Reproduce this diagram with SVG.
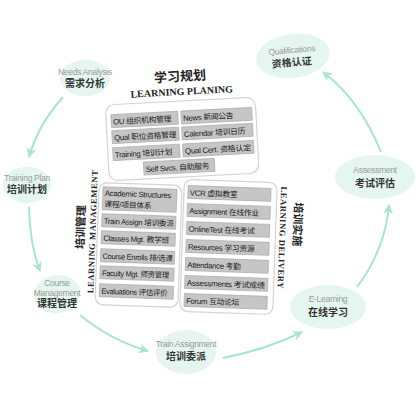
<svg xmlns="http://www.w3.org/2000/svg" width="420" height="420" viewBox="0 0 420 420">
<defs>
<style>
.node ellipse{fill:#e4f6ef;}
.en{font-family:"Liberation Sans",Arial,sans-serif;font-size:8.5px;fill:#9a9a9a;text-anchor:middle;letter-spacing:-0.3px;}
.zh{font-family:"Liberation Sans","Noto Sans CJK SC",sans-serif;font-size:10px;font-weight:bold;fill:#333;text-anchor:middle;}
.panel{fill:#fff;stroke:#d4d4d4;stroke-width:1.2;}
.box{fill:#c6c6c6;stroke:#a0a0a0;stroke-width:0.6;}
.bt{font-family:"Liberation Sans","Noto Sans CJK SC",sans-serif;font-size:7.8px;fill:#1a1a1a;letter-spacing:-0.3px;}
.ttl{font-family:"Liberation Serif","Noto Sans CJK SC",serif;font-weight:bold;fill:#222;text-anchor:middle;}
.conn path{fill:none;stroke:#a6e6c9;stroke-width:2;}
</style>
<marker id="ah" markerWidth="12" markerHeight="12" refX="9" refY="5" orient="auto" markerUnits="userSpaceOnUse">
<path d="M0,0 L10,5 L0,10 L3,5 Z" fill="#a6e6c9"/>
</marker>
</defs>
<rect width="420" height="420" fill="#fff"/>

<g id="connectors" class="conn">
<path d="M63,97 Q38,125 29,157" marker-end="url(#ah)"/>
<path d="M29,207 Q30,245 40,271" marker-end="url(#ah)"/>
<path d="M80,315 Q110,340 148,351" marker-end="url(#ah)"/>
<path d="M223,358 Q265,350 302,332" marker-end="url(#ah)"/>
<path d="M357,287 Q385,250 389,205" marker-end="url(#ah)"/>
<path d="M381,152 Q360,100 323,72" marker-end="url(#ah)"/>
</g>

<g id="needs" class="node">
<ellipse cx="85" cy="78" rx="25" ry="18"/>
<text class="en" x="85" y="75" font-size="7.5">Needs Analysis</text>
<text class="zh" x="85" y="87" font-size="9">需求分析</text>
</g>
<g id="qual" class="node">
<ellipse cx="293" cy="56" rx="37" ry="22" transform="rotate(-8 293 56)"/>
<text class="en" x="292" y="53" transform="rotate(-5 292 53)">Qualifications</text>
<text class="zh" x="292" y="66" transform="rotate(-5 292 66)">资格认证</text>
</g>
<g id="plan" class="node">
<ellipse cx="27" cy="185" rx="24" ry="18"/>
<text class="en" x="27" y="181">Training Plan</text>
<text class="zh" x="27" y="193" font-size="9">培训计划</text>
</g>
<g id="assess" class="node">
<ellipse cx="375" cy="177" rx="40" ry="22"/>
<text class="en" x="375" y="173" font-size="10">Assessment</text>
<text class="zh" x="375" y="187">考试评估</text>
</g>
<g id="course" class="node">
<ellipse cx="57" cy="294" rx="23" ry="19" transform="rotate(-10 57 294)"/>
<text class="en" x="57" y="286" font-size="7">Course</text>
<text class="en" x="57" y="296" font-size="7">Management</text>
<text class="zh" x="57" y="307" font-size="8.5">课程管理</text>
</g>
<g id="assign" class="node">
<ellipse cx="186" cy="352" rx="30" ry="22"/>
<text class="en" x="186" y="347" font-size="8">Train Assignment</text>
<text class="zh" x="186" y="360">培训委派</text>
</g>
<g id="elearn" class="node">
<ellipse cx="328" cy="307" rx="38" ry="22"/>
<text class="en" x="328" y="302" font-size="9">E-Learning</text>
<text class="zh" x="328" y="316" font-size="10.5">在线学习</text>
</g>

<g id="planning" transform="rotate(-3 182 135)">
<text class="ttl" x="183" y="81" font-size="13">学习规划</text>
<text class="ttl" x="184" y="95" font-size="10">LEARNING PLANING</text>
<rect class="panel" x="107" y="101" width="150" height="76" rx="9"/>
<rect class="box" x="112" y="111" width="67" height="13"/>
<text class="bt" x="114" y="121">OU 组织机构管理</text>
<rect class="box" x="182" y="111" width="71" height="13"/>
<text class="bt" x="184" y="121">News 新闻公告</text>
<rect class="box" x="112" y="127" width="67" height="13"/>
<text class="bt" x="114" y="137" textLength="62" lengthAdjust="spacingAndGlyphs">Qual 职位资格管理</text>
<rect class="box" x="182" y="127" width="71" height="13"/>
<text class="bt" x="184" y="137">Calendar 培训日历</text>
<rect class="box" x="112" y="144" width="67" height="13"/>
<text class="bt" x="114" y="154">Training 培训计划</text>
<rect class="box" x="182" y="144" width="71" height="13"/>
<text class="bt" x="184" y="154" textLength="66" lengthAdjust="spacingAndGlyphs">Qual Cert. 资格认定</text>
<rect class="box" x="142" y="160" width="71" height="13"/>
<text class="bt" x="144" y="170">Self Svcs. 自助服务</text>
</g>

<g id="management" transform="rotate(2 138 245)">
<text class="ttl" x="0" y="0" font-size="11" transform="translate(84 229) rotate(-90)">培训管理</text>
<text class="ttl" x="0" y="0" font-size="8.5" letter-spacing="0.6" transform="translate(95 233) rotate(-90)">LEARNING MANAGEMENT</text>
<rect class="panel" x="97" y="184" width="83" height="122" rx="8"/>
<rect class="box" x="101" y="188" width="74" height="23"/>
<text class="bt" x="103" y="197">Academic Structures</text>
<text class="bt" x="103" y="208">课程/项目体系</text>
<rect class="box" x="101" y="215" width="74" height="13"/>
<text class="bt" x="103" y="225" textLength="70" lengthAdjust="spacingAndGlyphs">Train Assign 培训委派</text>
<rect class="box" x="101" y="232" width="74" height="13"/>
<text class="bt" x="103" y="242">Classes Mgt. 教学班</text>
<rect class="box" x="101" y="250" width="74" height="13"/>
<text class="bt" x="103" y="260" textLength="70" lengthAdjust="spacingAndGlyphs">Course Enrolls 排/选课</text>
<rect class="box" x="101" y="267" width="74" height="13"/>
<text class="bt" x="103" y="277" textLength="67" lengthAdjust="spacingAndGlyphs">Faculty Mgt. 师资管理</text>
<rect class="box" x="101" y="285" width="74" height="13"/>
<text class="bt" x="103" y="295" textLength="66" lengthAdjust="spacingAndGlyphs">Evaluations 评估评价</text>
</g>

<g id="delivery" transform="rotate(2 230 248)">
<rect class="panel" x="182" y="181" width="93" height="132" rx="8"/>
<rect class="box" x="186" y="187" width="83" height="13"/>
<text class="bt" x="188" y="197">VCR 虚拟教室</text>
<rect class="box" x="186" y="205" width="83" height="13"/>
<text class="bt" x="188" y="215">Assignment 在线作业</text>
<rect class="box" x="186" y="223" width="83" height="13"/>
<text class="bt" x="188" y="233">OnlineTest 在线考试</text>
<rect class="box" x="186" y="241" width="83" height="13"/>
<text class="bt" x="188" y="251">Resources 学习资源</text>
<rect class="box" x="186" y="259" width="83" height="13"/>
<text class="bt" x="188" y="269">Attendance 考勤</text>
<rect class="box" x="186" y="277" width="83" height="13"/>
<text class="bt" x="188" y="287" textLength="78" lengthAdjust="spacingAndGlyphs">Assessments 考试成绩</text>
<rect class="box" x="186" y="295" width="83" height="13"/>
<text class="bt" x="188" y="305">Forum 互动论坛</text>
<text class="ttl" x="0" y="0" font-size="8.5" letter-spacing="0.6" transform="translate(279 236) rotate(90)">LEARNING DELIVERY</text>
<text class="ttl" x="0" y="0" font-size="11" transform="translate(293 222) rotate(90)">培训实施</text>
</g>
</svg>
